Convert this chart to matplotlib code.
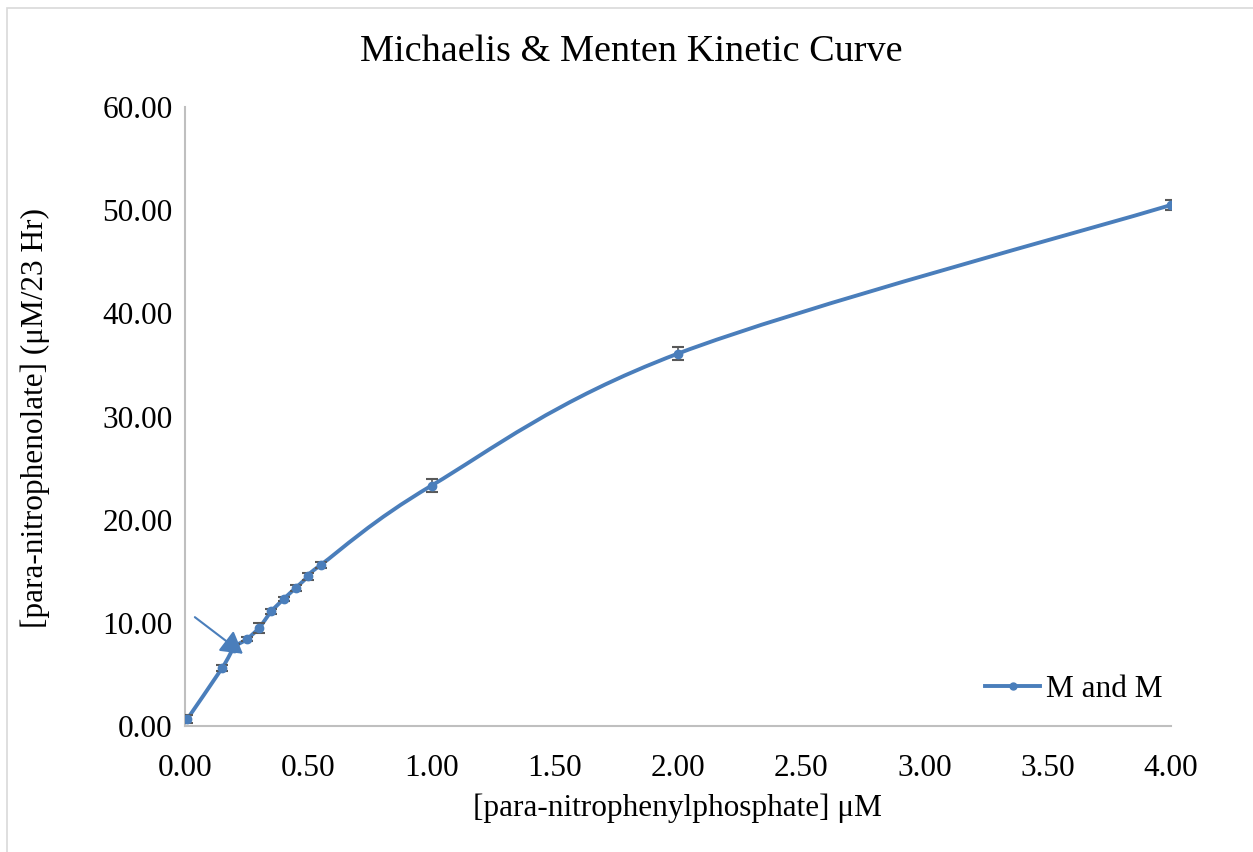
import numpy as np
import matplotlib
matplotlib.use("Agg")
import matplotlib.pyplot as plt
from matplotlib.path import Path
from matplotlib.patches import PathPatch, Rectangle

# data
substrate = [0.01, 0.15, 0.20, 0.25, 0.30, 0.35, 0.40, 0.45, 0.50, 0.55, 1.00, 2.00, 4.00]
product_ = [0.7, 5.6, 7.6, 8.4, 9.5, 11.1, 12.3, 13.4, 14.5, 15.6, 23.3, 36.1, 50.5]
errors = [0.4, 0.3, 0.3, 0.2, 0.5, 0.2, 0.2, 0.3, 0.3, 0.3, 0.6, 0.65, 0.5]
series_name = "M and M"
x_ticks = [0.0, 0.5, 1.0, 1.5, 2.0, 2.5, 3.0, 3.5, 4.0]
y_ticks = [0, 10, 20, 30, 40, 50, 60]

BLUE = "#4A7EBB"
plt.rcParams['font.family'] = ['Liberation Serif', 'DejaVu Serif']

W, H = 1253, 852
fig = plt.figure(figsize=(W / 100, H / 100), dpi=100)
fig.patches.append(Rectangle((7 / W, -0.1), 1.2, 1 - 8 / H + 0.1, transform=fig.transFigure,
                             fill=False, edgecolor="#D9D9D9", lw=1.2))
ax = fig.add_axes([185 / W, 1 - 726 / H, (1171 - 185) / W, (726 - 107) / H])


def smooth_path(xs, ys, sx, sy):
    # Catmull-Rom style bezier through the points (similar to Excel smoothing)
    p = np.column_stack([np.array(xs) * sx, np.array(ys) * sy])
    verts = [p[0]]
    codes = [Path.MOVETO]
    n = len(p)
    for i in range(n - 1):
        p0 = p[i - 1] if i > 0 else p[i]
        p3 = p[i + 2] if i + 2 < n else p[i + 1]
        c1 = p[i] + (p[i + 1] - p0) / 6
        c2 = p[i + 1] - (p3 - p[i]) / 6
        verts += [c1, c2, p[i + 1]]
        codes += [Path.CURVE4] * 3
    verts = np.array(verts)
    verts[:, 0] /= sx
    verts[:, 1] /= sy
    return Path(verts, codes)


ax.add_patch(PathPatch(smooth_path(substrate, product_, 246.5, 10.317),
                       fill=False, edgecolor=BLUE, lw=2.8, capstyle='round', joinstyle='round'))
ax.errorbar(substrate, product_, yerr=errors, fmt='none', ecolor="#595959",
            elinewidth=1.2, capsize=4.5, capthick=1.5, zorder=3)
ax.plot(substrate, product_, 'o', color=BLUE, ms=6, zorder=4)
ax.plot([], [], '-o', color=BLUE, lw=2.8, ms=5, label=series_name)

ax.annotate("", xy=(0.235, 7.0), xytext=(0.04, 10.55),
            arrowprops=dict(arrowstyle="-|>,head_length=0.6,head_width=0.35", color=BLUE,
                            lw=1.5, mutation_scale=22, shrinkA=0, shrinkB=0))

ax.set_xlim(0, 4)
ax.set_ylim(0, 60)
ax.set_xticks(x_ticks)
ax.set_xticklabels([f"{v:.2f}" for v in x_ticks])
ax.set_yticks(y_ticks)
ax.set_yticklabels([f"{v:.2f}" for v in y_ticks])
ax.tick_params(length=0, labelsize=22.5)
ax.tick_params(axis='x', pad=20)
ax.tick_params(axis='y', pad=9)
for s in ['top', 'right']:
    ax.spines[s].set_visible(False)
for s in ['left', 'bottom']:
    ax.spines[s].set_color("#BFBFBF")
    ax.spines[s].set_linewidth(1.5)

fig.text(677 / W, 1 - 808 / H, "[para-nitrophenylphosphate] μM", fontsize=22.5,
         ha='center', va='center')
fig.text(35 / W, 1 - 418 / H, "[para-nitrophenolate] (μM/23 Hr)", fontsize=22.5,
         ha='center', va='center', rotation=90)
fig.text(631 / W, 1 - 52 / H, "Michaelis & Menten Kinetic Curve", fontsize=27.5,
         ha='center', va='center')

ax.legend(loc='lower right', bbox_to_anchor=(1.02, -0.01), frameon=False, fontsize=22.5,
          handlelength=1.75, handletextpad=0.2)

fig.savefig("out.png", dpi=100)
